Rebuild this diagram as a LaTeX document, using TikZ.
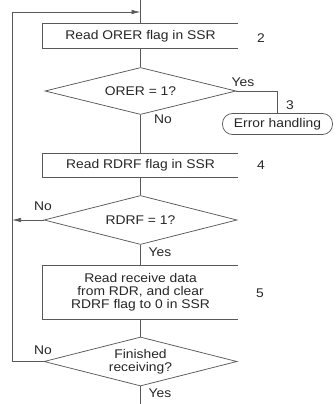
\documentclass[tikz,border=0pt]{standalone}
\usepackage{fontspec}
\setmainfont{Liberation Sans}[FakeStretch=1.1]
\usetikzlibrary{shapes.geometric,arrows.meta}

\begin{document}
\begin{tikzpicture}[x=1pt, y=-1pt, >={Latex[length=9pt,width=4.5pt]},
  every node/.style={font=\fontsize{12.6}{13}\selectfont, text=black!85},
  flow/.style={draw=black!65, line width=0.75pt},
  stepbox/.style={minimum width=195pt, inner sep=0pt, align=center},
  decision/.style={diamond, aspect=4, draw=black!65, line width=0.75pt, minimum width=193pt, inner sep=0pt, align=center},
  terminal/.style={draw=black!65, line width=0.75pt, rounded corners=10pt, minimum width=110pt, minimum height=21pt, inner sep=0pt}]
  \useasboundingbox (0,0) rectangle (335,404);
  \node (b1) [stepbox, minimum height=24pt] at (140.5,36) {Read ORER flag in SSR};
  \node (d1) [decision, minimum width=191pt, minimum height=47pt] at (140.5,91) {ORER = 1?};
  \node (err) [terminal] at (277.5,124) {Error handling};
  \node (b2) [stepbox, minimum height=23pt] at (140.5,165.5) {Read RDRF flag in SSR};
  \node (d2) [decision, minimum height=49pt] at (140.5,220) {RDRF = 1?};
  \node (b3) [stepbox, minimum height=53pt] at (140.5,292.5) {Read receive data\\from RDR, and clear\\RDRF flag to 0 in SSR};
  \node (d3) [decision, minimum height=49pt] at (140.5,361.5) {Finished\\receiving?};
  \node (n2) at (261,38) {2};
  \node (n3) at (290,105) {3};
  \node (n4) at (261,165) {4};
  \node (n5) at (260,293) {5};
  \node (yes1) at (243,82) {Yes};
  \node (no1) at (163,119) {No};
  \node (no2) at (43,206) {No};
  \node (yes2) at (160,252) {Yes};
  \node (no3) at (43,350) {No};
  \node (yes3) at (160,393) {Yes};
  \coordinate (top) at (140.5,0);
  \coordinate (bot) at (140.5,404);
  \coordinate (lc) at (12,12);
  \coordinate (ent) at (140.5,12);
  \coordinate (j) at (12,220);
  \foreach \b in {b1,b2,b3}
    \draw[flow] (\b.north east) -- (\b.north west) -- (\b.south west) -- (\b.south east);
  \path[flow]
  (top) edge (b1)
  (b1) edge (d1)
  (d1) edge (b2)
  (b2) edge (d2)
  (d2) edge (b3)
  (b3) edge (d3)
  (d3) edge (bot)
  ;
  \draw[flow] (d1.east) -| (err.north);
  \draw[flow,->] (d2.west) -- (j);
  \draw[flow,->] (d3.west) -| (lc) -- (ent);
\end{tikzpicture}
\end{document}
